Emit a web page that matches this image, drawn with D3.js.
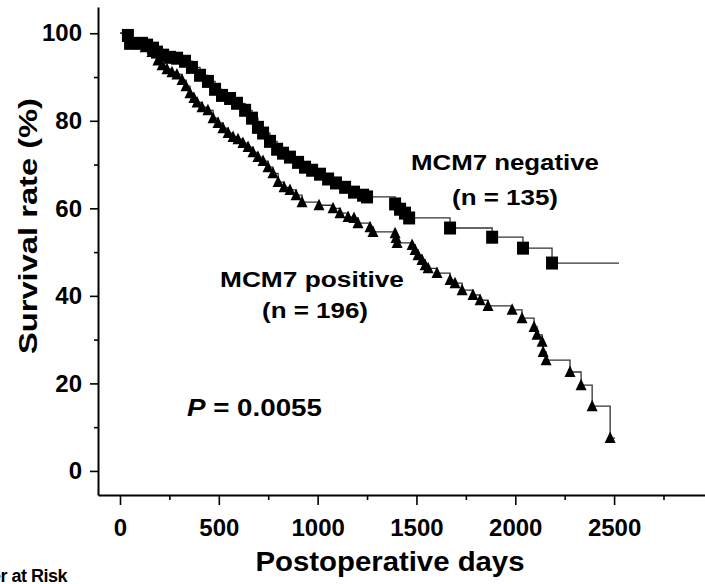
<!DOCTYPE html>
<html>
<head>
<meta charset="utf-8">
<script src="https://cdn.jsdelivr.net/npm/d3@7"></script>
<style>
  html, body { margin: 0; padding: 0; background: #fff; }
  svg { display: block; }
  text { font-family: "Liberation Sans", Arial, Helvetica, sans-serif; font-weight: bold; fill: #000; }
</style>
</head>
<body>
<svg id="chart" width="705" height="584"></svg>
<script>
// ---- Data ----
// MCM7 negative (n = 135): censor-mark positions [days], survival [%]
const negDays = [40, 51, 111, 137, 167, 187, 218, 253, 289, 329, 364, 405, 445, 481, 516, 557, 592, 633, 668, 698, 724, 759, 795, 825, 860, 901, 936, 972, 1012, 1053, 1093, 1139, 1184, 1230, 1250, 1392, 1417, 1442, 1463, 1670, 1883, 2039, 2186];
const negPct  = [99.5, 97.7, 97.7, 97.3, 96.6, 95.7, 95.0, 94.5, 94.3, 93.6, 92.2, 90.4, 89.0, 87.2, 85.8, 85.1, 84.0, 82.4, 80.6, 78.5, 77.2, 75.3, 73.5, 72.6, 71.7, 70.5, 69.4, 68.7, 67.8, 66.7, 65.8, 64.8, 63.7, 63.0, 62.6, 61.0, 59.8, 58.9, 57.8, 55.5, 53.4, 50.9, 47.5];
const negEnd = 2525;

// MCM7 positive (n = 196)
const posDays = [51, 91, 127, 162, 192, 213, 238, 263, 288, 314, 334, 354, 374, 390, 415, 445, 471, 496, 521, 547, 572, 597, 622, 648, 673, 698, 724, 749, 774, 800, 830, 860, 891, 921, 1007, 1078, 1113, 1154, 1184, 1204, 1265, 1280, 1392, 1397, 1402, 1478, 1493, 1508, 1528, 1544, 1559, 1604, 1670, 1695, 1731, 1786, 1822, 1862, 1984, 2034, 2095, 2110, 2136, 2141, 2156, 2277, 2333, 2389, 2480];
const posPct  = [98.4, 97.5, 96.8, 95.7, 93.8, 92.7, 91.8, 91.1, 90.6, 89.3, 87.9, 86.3, 85.2, 84.2, 83.1, 82.4, 80.6, 79.5, 78.3, 77.2, 76.3, 75.8, 74.9, 74.0, 72.8, 71.7, 70.8, 69.4, 68.0, 66.0, 64.8, 64.2, 63.0, 61.4, 60.7, 60.0, 58.9, 58.0, 57.8, 56.6, 55.7, 54.6, 54.3, 53.2, 52.1, 51.6, 50.5, 49.3, 48.2, 47.0, 46.3, 45.2, 43.6, 42.9, 41.3, 40.2, 39.0, 37.7, 36.8, 34.9, 32.9, 31.1, 29.5, 27.2, 25.3, 22.6, 19.6, 14.8, 7.5];
const posEnd = 2505;

const xMajorTicks = [0, 500, 1000, 1500, 2000, 2500];
const xMinorTicks = [250, 750, 1250, 1750, 2250, 2750];
const yMajorTicks = [0, 20, 40, 60, 80, 100];
const yMinorTicks = [10, 30, 50, 70, 90];

const labelNeg = ["MCM7 negative", "(n = 135)"];
const labelPos = ["MCM7 positive", "(n = 196)"];
const pValue = "0.0055";
const xTitle = "Postoperative days";
const yTitle = "Survival rate (%)";
const riskLabel = "Number at Risk";

// ---- Scales ----
const svg = d3.select("#chart");
const x = d3.scaleLinear().domain([-111.3, 2960]).range([98, 705]);
const y = d3.scaleLinear().domain([-5.5, 106]).range([495, 7]);

// ---- Axes ----
const xAxis = svg.append("g").attr("transform", `translate(0,${y(-5.5)})`)
  .call(d3.axisBottom(x).tickValues(xMajorTicks).tickFormat(d3.format("d")).tickSize(10).tickSizeOuter(0).tickPadding(8));
svg.append("g").attr("transform", `translate(0,${y(-5.5)})`)
  .call(d3.axisBottom(x).tickValues(xMinorTicks).tickSize(5).tickSizeOuter(0).tickFormat(""))
  .select(".domain").remove();
const yAxis = svg.append("g").attr("transform", `translate(${x(-111.3)},0)`)
  .call(d3.axisLeft(y).tickValues(yMajorTicks).tickFormat(d3.format("d")).tickSize(8).tickSizeOuter(0).tickPadding(8));
svg.append("g").attr("transform", `translate(${x(-111.3)},0)`)
  .call(d3.axisLeft(y).tickValues(yMinorTicks).tickSize(4).tickSizeOuter(0).tickFormat(""))
  .select(".domain").remove();

svg.selectAll(".domain").attr("stroke", "#000").attr("stroke-width", 2);
svg.selectAll(".tick line").attr("stroke", "#000").attr("stroke-width", 1.6);
svg.selectAll(".tick text").attr("font-size", 24).attr("font-family", "Liberation Sans, Arial, sans-serif").attr("font-weight", "bold").attr("fill", "#000");
xAxis.selectAll(".tick text").attr("dy", "0.95em");

// ---- Curves ----
function series(days, pct, end) {
  const pts = [[0, 100]];
  days.forEach((d, i) => pts.push([d, pct[i]]));
  pts.push([end, pct[pct.length - 1]]);
  return pts;
}
const line = d3.line().x(d => x(d[0])).y(d => y(d[1])).curve(d3.curveStepAfter);

svg.append("path").datum(series(negDays, negPct, negEnd))
  .attr("d", line).attr("fill", "none").attr("stroke", "#333").attr("stroke-width", 1.3);
svg.append("path").datum(series(posDays, posPct, posEnd))
  .attr("d", line).attr("fill", "none").attr("stroke", "#333").attr("stroke-width", 1.3);

// custom marker shapes
const squareSym = { draw(ctx, size) { const w = 6, h = 6.5; ctx.moveTo(-w, -h); ctx.lineTo(w, -h); ctx.lineTo(w, h); ctx.lineTo(-w, h); ctx.closePath(); } };
const triSym = { draw(ctx, size) { ctx.moveTo(0, -6.5); ctx.lineTo(5.5, 5); ctx.lineTo(-5.5, 5); ctx.closePath(); } };

svg.append("g").selectAll("path").data(negDays.map((d, i) => [d, negPct[i]])).join("path")
  .attr("transform", d => `translate(${x(d[0])},${y(d[1])})`)
  .attr("d", d3.symbol().type(squareSym)()).attr("fill", "#000");
svg.append("g").selectAll("path").data(posDays.map((d, i) => [d, posPct[i]])).join("path")
  .attr("transform", d => `translate(${x(d[0])},${y(d[1])})`)
  .attr("d", d3.symbol().type(triSym)()).attr("fill", "#000");

// ---- Annotations ----
function label(txt, cx, by, w, fs) {
  return svg.append("text").attr("x", cx).attr("y", by).attr("text-anchor", "middle")
    .attr("font-size", fs).attr("textLength", w).attr("lengthAdjust", "spacingAndGlyphs").text(txt);
}
label(labelNeg[0], 505, 170, 188, 22);
label(labelNeg[1], 505, 205, 106, 22);
label(labelPos[0], 312, 287, 184, 22);
label(labelPos[1], 315, 318, 106, 22);
const pt = svg.append("text").attr("x", 187).attr("y", 416).attr("font-size", 23)
  .attr("textLength", 135).attr("lengthAdjust", "spacingAndGlyphs");
pt.append("tspan").attr("font-style", "italic").text("P");
pt.append("tspan").text(" = " + pValue);

// ---- Titles ----
svg.append("text").attr("x", 390).attr("y", 571).attr("text-anchor", "middle").attr("font-size", 28)
  .attr("textLength", 269).attr("lengthAdjust", "spacingAndGlyphs").text(xTitle);
svg.append("text").attr("transform", "translate(37,226) rotate(-90)").attr("text-anchor", "middle").attr("font-size", 26)
  .attr("textLength", 256).attr("lengthAdjust", "spacingAndGlyphs").text(yTitle);
svg.append("text").attr("x", 67).attr("y", 582).attr("text-anchor", "end").attr("font-size", 18).attr("letter-spacing", -0.5).text(riskLabel);
</script>
</body>
</html>
